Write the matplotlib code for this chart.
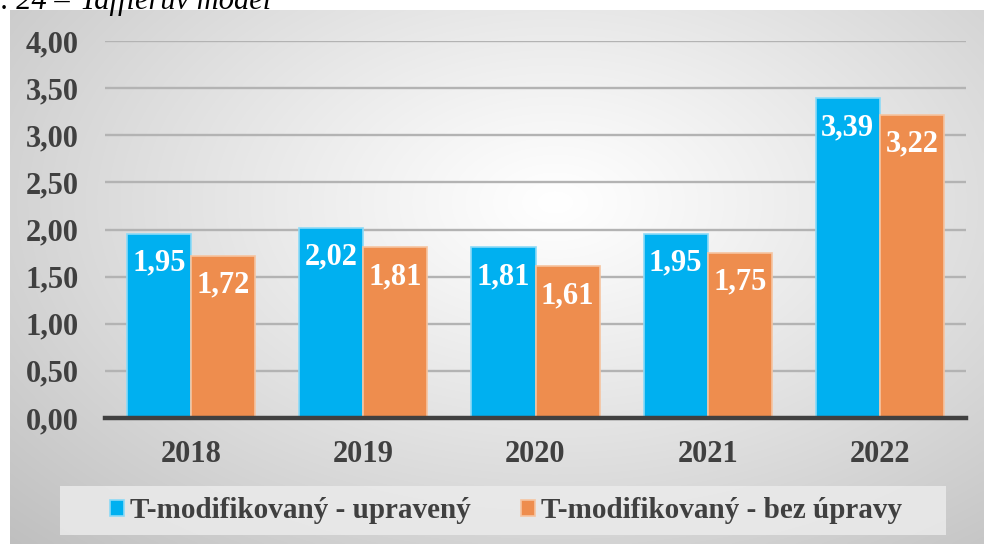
import numpy as np
import matplotlib
matplotlib.use("Agg")
import matplotlib.pyplot as plt
from matplotlib.patches import Rectangle

years = ["2018", "2019", "2020", "2021", "2022"]
upraveny = [1.95, 2.02, 1.81, 1.95, 3.39]
bez_upravy = [1.72, 1.81, 1.61, 1.75, 3.22]
series_names = ["T-modifikovaný - upravený", "T-modifikovaný - bez úpravy"]
yticks = [0.0, 0.5, 1.0, 1.5, 2.0, 2.5, 3.0, 3.5, 4.0]
caption = ". 24 –"
caption2 = "Tafflerův model"

W, H = 984, 544
plt.rcParams['font.family'] = ['Liberation Serif', 'DejaVu Serif']
fig = plt.figure(figsize=(W / 100, H / 100), dpi=100)

def fx(px):
    return px / W

def fy(py):
    return 1 - py / H

# background radial gradient
bg = fig.add_axes([fx(10), 0, fx(974), (H - 10) / H], zorder=-5)
ny, nx = 300, 540
yy, xx = np.mgrid[0:ny, 0:nx]
u = (xx / (nx - 1) - 0.56) / 0.56
v = (yy / (ny - 1) - 0.36) / 0.64
r = np.clip(np.sqrt((u ** 2 + v ** 2) / 2), 0, 1)
g = 1 - 0.25 * r ** 1.1
img = np.dstack([g, g, g])
bg.imshow(img, aspect='auto', extent=[0, 1, 0, 1], interpolation='bicubic')
bg.set_axis_off()

# caption (partly cut by the top edge, as in the reference)
fig.text(fx(1), fy(9), caption, fontsize=22, style='italic', color='black', va='baseline', ha='left')
fig.text(fx(80), fy(9), caption2, fontsize=22, style='italic', color='black', va='baseline', ha='left')

ax = fig.add_axes([fx(105), fy(418), fx(966 - 105), (418 - 41) / H])
ax.patch.set_alpha(0)
x = np.arange(len(years))
w = 0.372
blue = '#00B0F0'
orange = '#EE8D4E'
b1 = ax.bar(x - w / 2, upraveny, w, color=blue, edgecolor='#8cdaf7', linewidth=1.2, zorder=3)
b2 = ax.bar(x + w / 2, bez_upravy, w, color=orange, edgecolor='#f6c4a0', linewidth=1.2, zorder=3)

for bars, vals in ((b1, upraveny), (b2, bez_upravy)):
    for rect, val in zip(bars, vals):
        ax.annotate(f"{val:.2f}".replace('.', ','),
                    (rect.get_x() + rect.get_width() / 2, val),
                    xytext=(0, -21), textcoords='offset points', ha='center', va='center',
                    fontsize=22, fontweight='bold', color='white', zorder=5)

ax.set_ylim(0, 4)
ax.set_xlim(-0.5, len(years) - 0.5)
ax.set_yticks(yticks)
ax.set_yticklabels([f"{t:.2f}".replace('.', ',') for t in yticks])
ax.set_xticks(x)
ax.set_xticklabels(years)
ax.grid(axis='y', color='#b3b3b3', linewidth=1.7, zorder=0)
ax.set_axisbelow(True)
for s in ['top', 'right', 'left']:
    ax.spines[s].set_visible(False)
ax.spines['bottom'].set_color('#404040')
ax.spines['bottom'].set_linewidth(3.2)
ax.spines['bottom'].set_zorder(6)
ax.tick_params(axis='both', length=0, labelsize=22, labelcolor='#404040')
ax.tick_params(axis='y', pad=19)
ax.tick_params(axis='x', pad=16)
for lbl in ax.get_xticklabels() + ax.get_yticklabels():
    lbl.set_fontweight('bold')

# legend box
fig.patches.append(Rectangle((fx(60), fy(535)), fx(946 - 60), (535 - 486) / H,
                             transform=fig.transFigure, facecolor='#ebebeb', edgecolor='none',
                             alpha=0.85, zorder=1))
leg = fig.legend([b1, b2], series_names, loc='center', bbox_to_anchor=(fx(506), fy(511)),
                 ncol=2, frameon=False, handlelength=0.48, handleheight=0.48,
                 handletextpad=0.2, columnspacing=1.75,
                 prop={'weight': 'bold', 'size': 21, 'family': 'Liberation Serif'})
for t in leg.get_texts():
    t.set_color('#404040')

fig.savefig('out.png', dpi=100)
